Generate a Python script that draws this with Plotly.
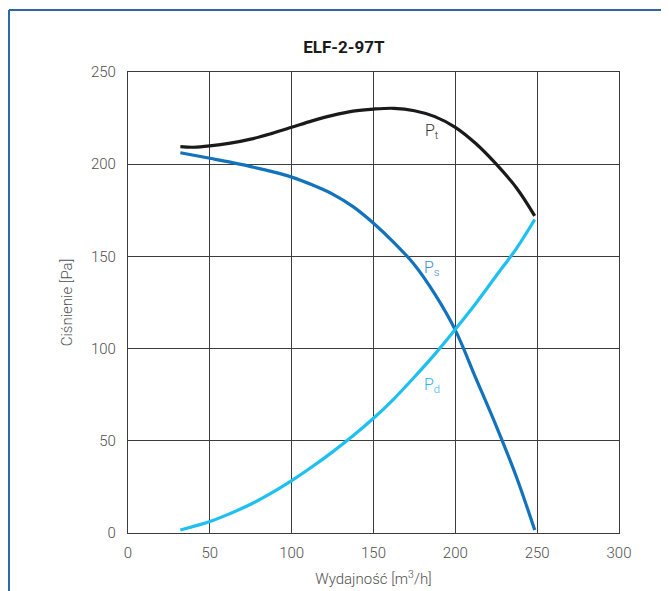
import plotly.graph_objects as go

# Flow values [m3/h] and pressures [Pa]
q_pt = [32, 40, 50, 62.5, 75, 87.5, 100, 112.5, 125, 137.5, 150, 162.5, 175, 187.5, 200, 212.5, 225, 237.5, 248.5]
p_t = [209.5, 209.2, 209.9, 211.4, 213.6, 216.6, 220, 223.5, 226.5, 228.8, 229.9, 230.3, 229, 225.8, 220, 211.2, 200, 187, 172]

q_ps = [32, 50, 62.5, 75, 87.5, 100, 112.5, 125, 137.5, 150, 162.5, 175, 187.5, 200, 212.5, 225, 237.5, 248.5]
p_s = [206.2, 203.2, 201.1, 198.7, 196.1, 193, 188.8, 183.8, 177, 168, 157.5, 145.5, 129.5, 110, 84, 58, 30, 1.6]

q_pd = [32, 50, 62.5, 75, 87.5, 100, 112.5, 125, 137.5, 150, 162.5, 175, 187.5, 200, 212.5, 225, 237.5, 248.5]
p_d = [1.6, 6.2, 10.6, 15.6, 21.6, 28.4, 35.9, 44, 52.7, 62.2, 72.8, 84.6, 97, 110.5, 124.5, 139.5, 154.5, 170]

x_ticks = [0, 50, 100, 150, 200, 250, 300]
y_ticks = [0, 50, 100, 150, 200, 250]

labels = ["P<sub>t</sub>", "P<sub>s</sub>", "P<sub>d</sub>"]
label_x = [186, 186, 186]
label_y = [218, 143.5, 80]
label_colors = ["#333333", "#3f8fd2", "#23b8ee"]

FONT = "Roboto, Liberation Sans, sans-serif"

fig = go.Figure()
fig.add_trace(go.Scatter(x=q_pt, y=p_t, mode="lines", line=dict(color="#1a1a1a", width=3.2, shape="spline", smoothing=1.0), hoverinfo="skip"))
fig.add_trace(go.Scatter(x=q_ps, y=p_s, mode="lines", line=dict(color="#1272bb", width=3.2, shape="spline", smoothing=1.0), hoverinfo="skip"))
fig.add_trace(go.Scatter(x=q_pd, y=p_d, mode="lines", line=dict(color="#1fc0f0", width=3.2, shape="spline", smoothing=1.0), hoverinfo="skip"))

for t, lx, ly, c in zip(labels, label_x, label_y, label_colors):
    fig.add_annotation(x=lx, y=ly, text=t, showarrow=False, xanchor="center", yanchor="middle",
                       font=dict(family=FONT, size=16, color=c, weight=300))

axis_common = dict(showgrid=True, gridcolor="#3c3c3c", gridwidth=1.1, showline=True, linecolor="#3c3c3c",
                   linewidth=1.3, mirror=True, zeroline=False, ticks="",
                   tickfont=dict(family=FONT, size=15, color="#505050", weight=300))

fig.update_xaxes(range=[0, 300], tickvals=x_ticks, ticklabelstandoff=6,
                 title=dict(text="Wydajność [m<sup>3</sup>/h]", font=dict(family=FONT, size=15, color="#505050", weight=300), standoff=12),
                 **axis_common)
fig.update_yaxes(range=[0, 250], tickvals=y_ticks, ticklabelstandoff=8,
                 title=dict(text="Ciśnienie [Pa]", font=dict(family=FONT, size=15, color="#505050", weight=300), standoff=14),
                 **axis_common)

# outer frame (left and top border)
fig.add_shape(type="line", xref="paper", yref="paper", x0=-0.2424, x1=-0.2424, y0=1.1345, y1=-0.2, line=dict(color="#2f67a6", width=2))
fig.add_shape(type="line", xref="paper", yref="paper", x0=-0.2424, x1=1.2, y0=1.1345, y1=1.1345, line=dict(color="#2f67a6", width=2))

fig.update_layout(
    width=669, height=591,
    margin=dict(l=120, r=58, t=64, b=66),
    paper_bgcolor="white", plot_bgcolor="white",
    showlegend=False,
    title=dict(text="<b>ELF-2-97T</b>", x=0.502, xref="container", xanchor="center", y=0.934, yref="container", yanchor="middle",
               font=dict(family=FONT, size=17, color="#1a1a1a")),
)

fig.write_html("out.html")
